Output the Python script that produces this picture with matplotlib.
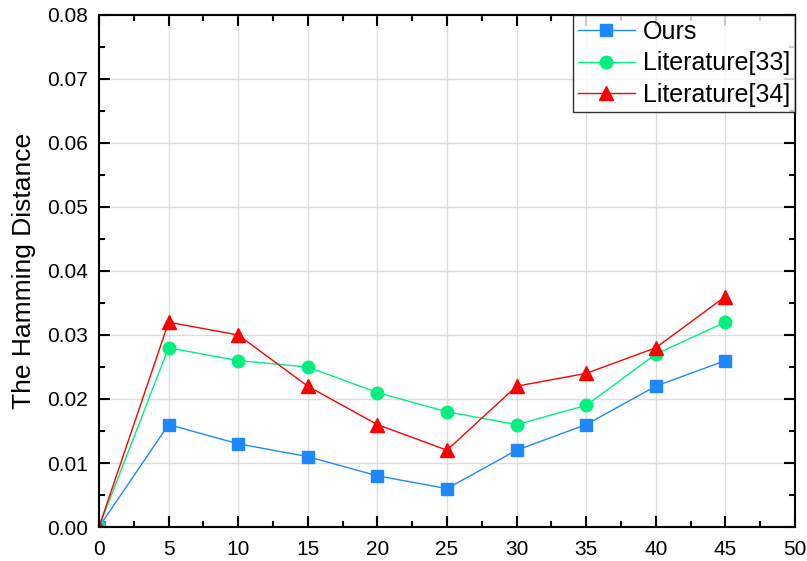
import numpy as np
import matplotlib.pyplot as plt

plt.rcParams['font.family'] = ['Liberation Sans', 'DejaVu Sans']

# Data
x = [0, 5, 10, 15, 20, 25, 30, 35, 40, 45]
ours = [0, 0.016, 0.013, 0.011, 0.008, 0.006, 0.012, 0.016, 0.022, 0.026]
lit33 = [0, 0.028, 0.026, 0.025, 0.021, 0.018, 0.016, 0.019, 0.027, 0.032]
lit34 = [0, 0.032, 0.030, 0.022, 0.016, 0.012, 0.022, 0.024, 0.028, 0.036]

fig = plt.figure(figsize=(8.07, 5.61), dpi=100)
ax = fig.add_axes([0.1227, 0.0606, 0.8623, 0.9127])

ax.plot(x, ours, color='#1E88FF', lw=1, marker='s', ms=8, label='Ours')
ax.plot(x, lit33, color='#00F080', lw=1, marker='o', ms=9, label='Literature[33]')
ax.plot(x, lit34, color='#FF0000', lw=1, marker='^', ms=10, label='Literature[34]')

ax.set_xlim(0, 50)
ax.set_ylim(0, 0.08)
ax.set_xticks(np.arange(0, 51, 5))
ax.set_xticks(np.arange(2.5, 50, 5), minor=True)
ax.set_yticks(np.arange(0, 0.081, 0.01))
ax.set_yticks(np.arange(0.005, 0.08, 0.01), minor=True)
ax.yaxis.set_major_formatter(plt.FormatStrFormatter('%.2f'))

ax.grid(True, which='major', color='#dddddd', lw=1)
ax.set_axisbelow(True)
for s in ax.spines.values():
    s.set_linewidth(1.5)
ax.tick_params(which='both', direction='in', top=True, right=True, labelsize=15, width=1.5)
ax.tick_params(which='major', length=8)
ax.tick_params(which='minor', length=4)
ax.tick_params(axis='x', pad=9)
ax.tick_params(axis='y', pad=8)

ax.set_ylabel('The Hamming Distance', fontsize=19, labelpad=8)

leg = ax.legend(loc='upper right', fontsize=18, frameon=True, fancybox=False,
                edgecolor='black', borderaxespad=0, handlelength=2.3,
                borderpad=0.2, labelspacing=0.3, handletextpad=0.3)
leg.get_frame().set_linewidth(1)

plt.savefig('out.png', dpi=100)
